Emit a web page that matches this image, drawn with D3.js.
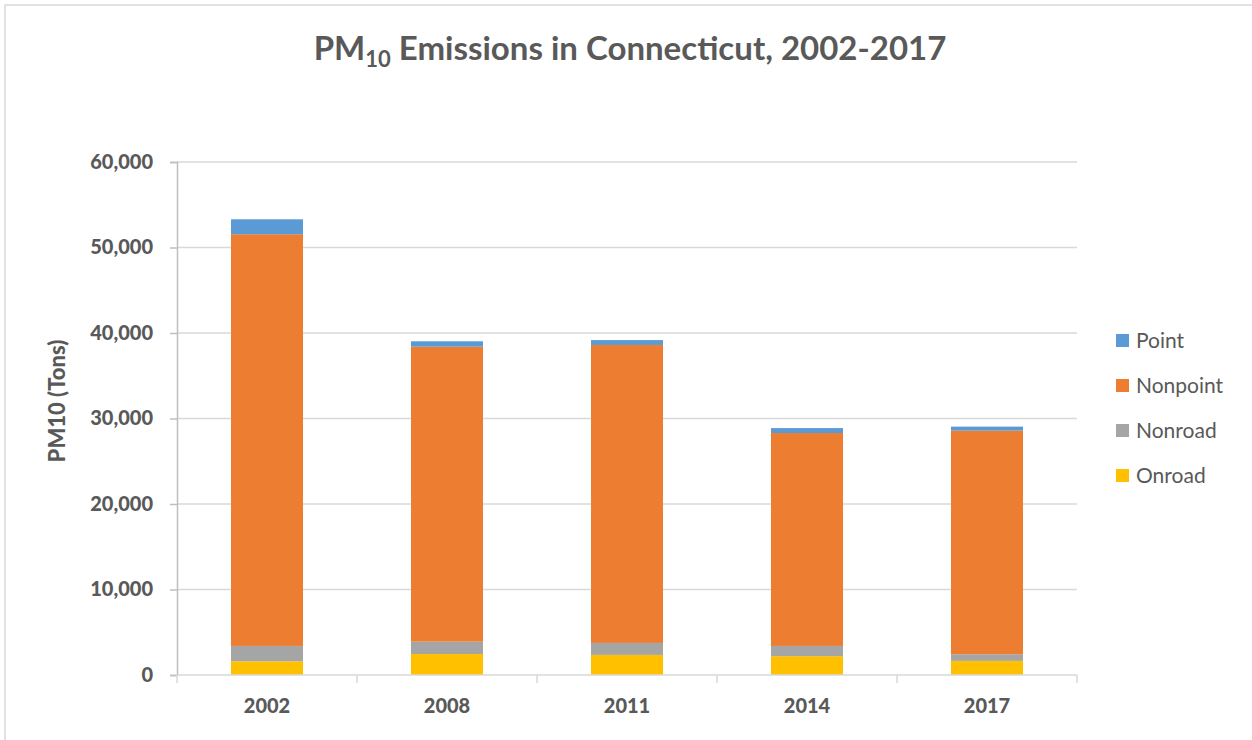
<!DOCTYPE html>
<html>

<head>
    <meta charset="utf-8" />
    <title>PM10 Emissions in Connecticut</title>
    <script type="text/javascript" src="https://cdn.jsdelivr.net/npm/d3@7"></script>
    <style>
        body { margin: 0; background: #fff; }
        text { font-family: Lato, "Open Sans", sans-serif; fill: #595959; }
    </style>
</head>

<body>
    <script type="text/javascript">
        const years = ["2002", "2008", "2011", "2014", "2017"];
        const seriesNames = ["Onroad", "Nonroad", "Nonpoint", "Point"];
        const onroad = [1600, 2450, 2350, 2200, 1650];
        const nonroad = [1800, 1450, 1400, 1200, 780];
        const nonpoint = [48150, 34500, 34850, 24900, 26150];
        const point = [1750, 630, 570, 580, 470];
        const yTicks = [0, 10000, 20000, 30000, 40000, 50000, 60000];
        const colors = ["#FFC000", "#A5A5A5", "#ED7D31", "#5B9BD5"];

        const width = 1252,
            height = 740,
            margin = { top: 162, left: 177, right: 175, bottom: 65 };

        const svg = d3.select("body").append("svg")
            .attr("width", width)
            .attr("height", height);

        // chart frame
        svg.append("rect")
            .attr("x", 5).attr("y", 5)
            .attr("width", width + 10).attr("height", height + 10)
            .attr("fill", "none")
            .attr("stroke", "#D9D9D9")
            .attr("stroke-width", 1.5);

        // title with subscript
        const title = svg.append("text")
            .attr("x", 630)
            .attr("y", 60)
            .attr("text-anchor", "middle")
            .style("font-size", "33px")
            .style("font-weight", "bold");
        title.append("tspan").text("PM");
        title.append("tspan").attr("dy", 7).style("font-size", "22px").text("10");
        title.append("tspan").attr("dy", -7).text(" Emissions in Connecticut, 2002-2017");

        const table = years.map((y, i) => ({
            year: y,
            Onroad: onroad[i],
            Nonroad: nonroad[i],
            Nonpoint: nonpoint[i],
            Point: point[i]
        }));

        const x = d3.scaleBand()
            .domain(years)
            .range([margin.left, width - margin.right])
            .paddingInner(0.6)
            .paddingOuter(0.3);

        const y = d3.scaleLinear()
            .domain([0, 60000])
            .range([height - margin.bottom, margin.top]);

        // gridlines
        svg.append("g")
            .selectAll("line")
            .data(yTicks.slice(1))
            .join("line")
            .attr("x1", margin.left)
            .attr("x2", width - margin.right)
            .attr("y1", d => y(d))
            .attr("y2", d => y(d))
            .attr("stroke", "#D9D9D9")
            .attr("stroke-width", 1.5);

        // y axis
        const yAxis = d3.axisLeft(y)
            .tickValues(yTicks)
            .tickFormat(d3.format(","))
            .tickSize(7)
            .tickPadding(17);

        const yG = svg.append("g")
            .attr("transform", `translate(${margin.left},0)`)
            .call(yAxis);
        yG.select(".domain").attr("stroke", "#BFBFBF").attr("stroke-width", 1.5);
        yG.selectAll(".tick line").attr("stroke", "#BFBFBF").attr("stroke-width", 1.5);
        yG.selectAll(".tick text")
            .style("font-size", "20px")
            .style("font-weight", "900")
            .attr("fill", "#595959");

        // stacked bars
        const stack = d3.stack().keys(seriesNames);
        const layers = stack(table);

        svg.append("g")
            .selectAll("g")
            .data(layers)
            .join("g")
            .attr("fill", (d, i) => colors[i])
            .selectAll("rect")
            .data(d => d)
            .join("rect")
            .attr("x", d => x(d.data.year))
            .attr("width", x.bandwidth())
            .attr("y", d => y(d[1]))
            .attr("height", d => y(d[0]) - y(d[1]));

        // x axis with boundary ticks
        const xBase = y(0);
        const bandStep = x.step();
        const boundaries = d3.range(years.length + 1).map(i => margin.left + i * bandStep);

        svg.append("line")
            .attr("x1", margin.left)
            .attr("x2", width - margin.right)
            .attr("y1", xBase)
            .attr("y2", xBase)
            .attr("stroke", "#D9D9D9")
            .attr("stroke-width", 1.5);

        svg.append("g")
            .selectAll("line")
            .data(boundaries)
            .join("line")
            .attr("x1", d => d)
            .attr("x2", d => d)
            .attr("y1", xBase)
            .attr("y2", xBase + 8)
            .attr("stroke", "#D9D9D9")
            .attr("stroke-width", 1.5);

        svg.append("g")
            .selectAll("text")
            .data(years)
            .join("text")
            .attr("x", d => x(d) + x.bandwidth() / 2)
            .attr("y", xBase + 38)
            .attr("text-anchor", "middle")
            .style("font-size", "20px")
            .style("font-weight", "900")
            .text(d => d);

        // y axis title
        svg.append("text")
            .attr("transform", "translate(65,401) rotate(-90)")
            .attr("text-anchor", "middle")
            .style("font-size", "22px")
            .style("font-weight", "900")
            .text("PM10 (Tons)");

        // legend (top to bottom: Point, Nonpoint, Nonroad, Onroad)
        const legendItems = seriesNames.map((n, i) => ({ name: n, color: colors[i] })).reverse();

        const legend = svg.append("g")
            .selectAll("g")
            .data(legendItems)
            .join("g")
            .attr("transform", (d, i) => `translate(1116,${341 + i * 45})`);

        legend.append("rect")
            .attr("x", 0)
            .attr("y", -7)
            .attr("width", 13)
            .attr("height", 13)
            .attr("fill", d => d.color);

        legend.append("text")
            .attr("x", 20)
            .attr("y", 7)
            .style("font-size", "21px")
            .text(d => d.name);
    </script>
</body>

</html>
